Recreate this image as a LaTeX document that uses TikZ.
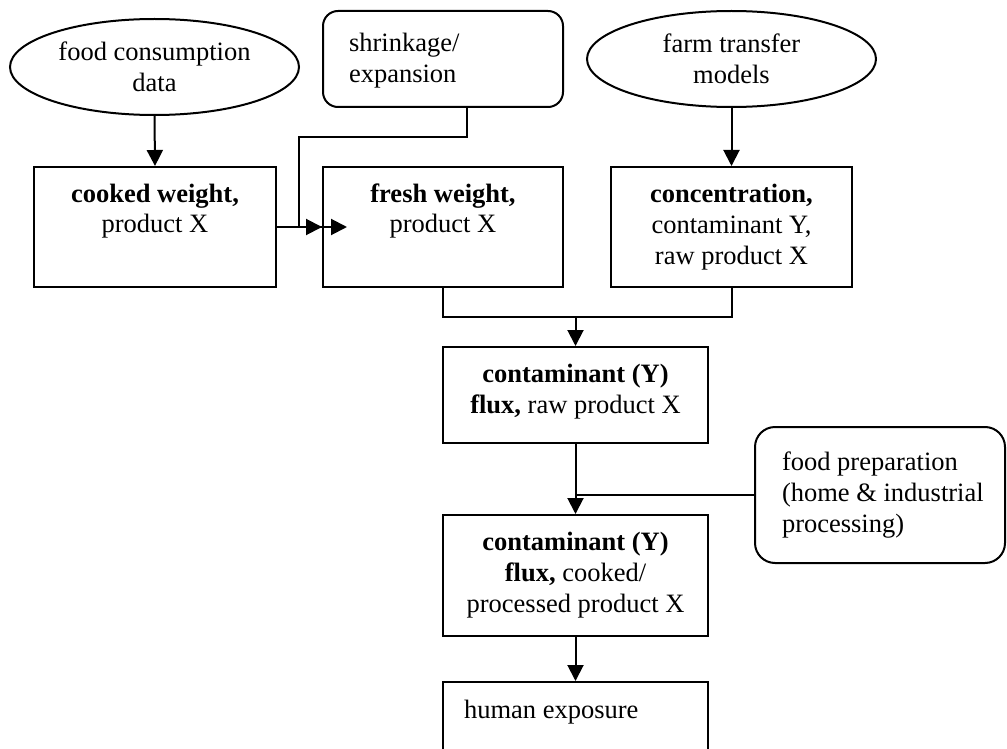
\documentclass[tikz,border=0pt]{standalone}
\usepackage{fontspec}
\setmainfont{Liberation Serif}
\usetikzlibrary{arrows.meta,shapes.geometric}
\begin{document}
\begin{tikzpicture}[x=1pt,y=-1pt,
  line width=2pt,
  every node/.style={font=\fontsize{26.5}{31}\selectfont},
  box/.style={draw, rectangle, inner sep=0pt, line width=2pt},
  softbox/.style={box, rounded corners=15pt},
  oval/.style={draw, ellipse, inner sep=0pt, minimum width=289pt,
    minimum height=96pt, align=center, line width=2pt},
  ctext/.style={inner sep=0pt, anchor=north, align=center},
  ltext/.style={inner sep=0pt, anchor=north west, align=left},
  arr/.style={-{Triangle[length=16pt,width=16pt]}},
]
\clip (0,0) rectangle (1007,749);

% sources
\node[oval] (food) at (154.5,67) {food consumption\\data};
\node[softbox, minimum width=240pt, minimum height=96pt] (shrink) at (443,59) {};
\node[ltext] (shrinkT) at (348,29.3) {\strut shrinkage/\\expansion};
\node[oval] (farm) at (731.5,59) {farm transfer\\models};

% first row of quantities
\node[box, minimum width=242pt, minimum height=120pt] (cooked) at (155,227) {};
\node[ctext] (cookedT) at ([yshift=-13.3pt]cooked.north) {\strut\textbf{cooked weight,}\\product X};
\node[box, minimum width=240pt, minimum height=120pt] (fresh) at (443,227) {};
\node[ctext] (freshT) at ([yshift=-13.3pt]fresh.north) {\strut\textbf{fresh weight,}\\product X};
\node[box, minimum width=241pt, minimum height=120pt] (conc) at (731.5,227) {};
\node[ctext] (concT) at ([yshift=-13.3pt]conc.north) {\strut\textbf{concentration,}\\contaminant Y,\\raw product X};

% fluxes
\node[box, minimum width=265pt, minimum height=96pt] (raw) at (575.5,395) {};
\node[ctext] (rawT) at ([yshift=-13.3pt]raw.north) {\strut\textbf{contaminant (Y)}\\\textbf{flux,} raw product X};
\node[softbox, rounded corners=20pt, minimum width=250pt, minimum height=136pt] (prep) at (880,495) {};
\node[ltext] (prepT) at (781,447.3) {\strut food preparation\\(home \& industrial\\processing)};
\node[box, minimum width=265pt, minimum height=121pt] (cflux) at (575.5,575.5) {};
\node[ctext] (cfluxT) at ([yshift=-13.3pt]cflux.north) {\strut\textbf{contaminant (Y)}\\\textbf{flux,} cooked/\\processed product X};
\node[box, minimum width=265pt, minimum height=120pt] (human) at (575.5,742) {};
\node[ltext] (humanT) at (463,695.3) {\strut human exposure};

% helper points
\coordinate (shrinkout) at (467,107);
\coordinate (shrinkbend) at (299,137);
\coordinate (freshin) at (347,227);
\coordinate (join) at (575.5,317);

% connectors
\draw[arr] (food.south) -- (cooked.north);
\draw[arr] (farm.south) -- (conc.north);
\draw[arr] (cooked.east) -- (fresh.west);
\draw[arr] (shrinkout) |- (shrinkbend) |- (freshin);
\draw (fresh.south) |- (join) -| (conc.south);
\draw[arr] (join) -- (raw.north);
\draw[arr] (raw.south) -- (cflux.north);
\draw (prep.west) -- (raw.south |- prep.west);
\draw[arr] (cflux.south) -- (human.north);
\end{tikzpicture}
\end{document}
